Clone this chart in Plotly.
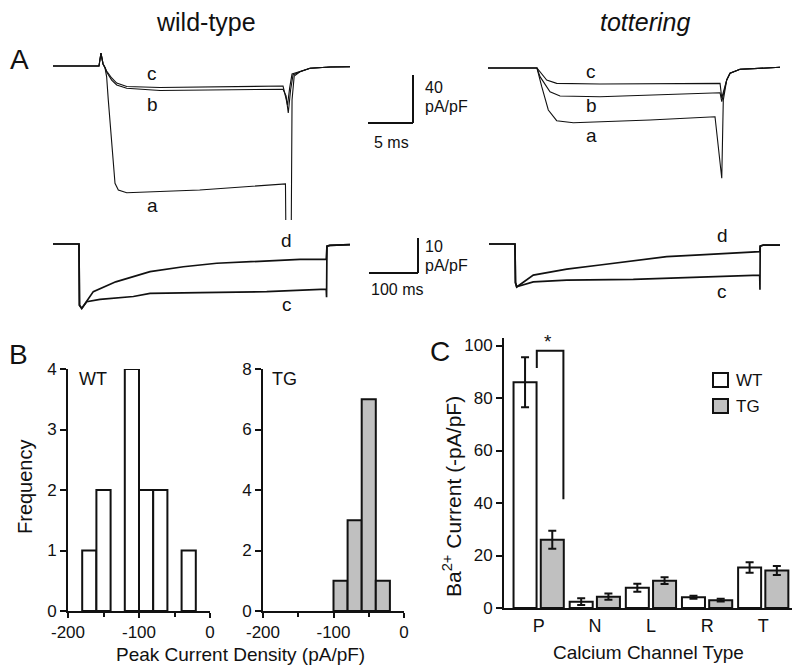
import plotly.graph_objects as go

# the page body has an 8px margin, so the figure is placed at (8, 8) in the 800x672 window
PAGE_OFF = 8
W, H = 800 - PAGE_OFF, 672 - PAGE_OFF
FONT = "Liberation Sans, Arial, Helvetica, sans-serif"
INK = "#111111"
GRAY = "#c0c0c0"

# ---------------- Panel A: current traces (time in ms, current in pA/pF) ----------------
# wild-type, short pulse
WT_TOP_T_A = [0, 5.11, 5.33, 5.56, 5.78, 5.96, 6.14, 6.7, 6.89, 7.26, 8.19, 16.3, 25.6, 25.83, 26.22, 26.56, 26.8, 27.44, 28.56, 30.8, 33.0]
WT_TOP_A = [0, 0, 10.8, 1.7, -1.5, -9, -28, -84, -97.8, -103.3, -105.6, -103.3, -98.3, -98.3, -445, -28.3, -8.3, -4.8, -1.9, -0.8, -0.6]
WT_TOP_T_B = [0, 5.11, 5.33, 5.56, 5.78, 5.96, 6.52, 7.08, 8.19, 11.89, 25.56, 25.9, 26.14, 26.4, 26.67, 27.44, 28.56, 30.8, 33.0]
WT_TOP_B = [0, 0, 10.8, 1.7, -1.5, -5, -11.7, -15.8, -18.6, -20.4, -19.4, -25, -39.2, -20, -7.5, -4.8, -1.9, -0.8, -0.6]
WT_TOP_T_C = [0, 5.11, 5.33, 5.56, 5.78, 5.96, 6.52, 7.08, 8.19, 11.89, 25.56, 26.06, 26.3, 26.56, 27.44, 28.56, 30.8, 33.0]
WT_TOP_C = [0, 0, 10.8, 1.7, -1.2, -4.2, -10, -14.2, -17.1, -17.9, -16.7, -32.5, -18, -6.7, -4.5, -1.9, -0.8, -0.6]

# tottering, short pulse
TG_TOP_T_A = [0, 5.44, 5.97, 6.7, 7.63, 9.48, 18.0, 25.22, 25.97, 26.14, 26.52, 26.89, 28.0, 32.44]
TG_TOP_A = [0, 0, -15.6, -35, -43.9, -45.6, -43.3, -40.6, -91.9, -26.7, -10, -4.4, -1.1, 0.6]
TG_TOP_T_B = [0, 5.44, 5.78, 6.89, 8.0, 12.44, 25.78, 25.97, 26.52, 26.89, 28.0, 32.44]
TG_TOP_B = [0, 0, -7.2, -19.8, -23.3, -23.9, -20.6, -28, -10, -4.4, -1.1, 0.6]
TG_TOP_T_C = [0, 5.44, 6.52, 7.63, 12.44, 25.2, 25.78, 25.97, 26.52, 26.89, 28.0, 32.44]
TG_TOP_C = [0, 0, -10, -12.8, -13.3, -12.5, -12.8, -25, -10, -4.4, -1.1, 0.6]

# wild-type, long pulse
WT_BOT_T_D = [0, 53, 54, 58.6, 82.2, 128, 198, 266, 334, 402, 504, 557.5, 559, 565, 606]
WT_BOT_D = [0, 0, -17.5, -18.4, -13.6, -10.8, -7.9, -6.5, -5.5, -5.0, -4.4, -4.4, -0.6, -0.4, -0.2]
WT_BOT_T_C = [0, 53, 54, 58.6, 68.8, 95.9, 164, 198, 300, 436, 557.5, 558.2, 559, 565, 606]
WT_BOT_C = [0, 0, -17.5, -18.4, -16.5, -15.8, -15.0, -14.1, -13.9, -13.6, -12.9, -15.2, -0.6, -0.4, -0.2]

# tottering, long pulse
TG_BOT_T_D = [0, 53, 54, 56.5, 90.4, 158.6, 226.5, 294.5, 362.7, 430.6, 498.6, 552.5, 553.5, 560, 575, 593.9]
TG_BOT_D = [0, 0, -11, -12.3, -8.9, -7.2, -6.0, -4.8, -3.6, -3.1, -2.7, -2.2, -0.6, -0.3, -0.3, -0.3]
TG_BOT_T_C = [0, 53, 54, 56.5, 90.4, 158.6, 294.5, 430.6, 552.5, 553, 553.5, 560, 593.9]
TG_BOT_C = [0, 0, -11, -12.2, -10.8, -10.3, -10.1, -9.5, -8.9, -13.1, -0.6, -0.3, -0.3]

# scale bars: (time ms, current pA/pF)
SCALE_TOP = (5, 40)
SCALE_BOT = (100, 10)

# ---------------- Panel B: histograms ----------------
BIN_LEFT = [-180, -160, -140, -120, -100, -80, -60, -40]
BIN_WIDTH = 20
WT_COUNTS = [1, 2, 0, 4, 2, 2, 0, 1]
TG_COUNTS = [0, 0, 0, 0, 1, 3, 7, 1]

# ---------------- Panel C: bar chart ----------------
CHANNELS = ["P", "N", "L", "R", "T"]
WT_MEAN = [86, 2.4, 7.7, 4.1, 15.4]
WT_SEM = [9.5, 1.3, 1.5, 0.6, 2.0]
TG_MEAN = [26, 4.3, 10.4, 3.0, 14.3]
TG_SEM = [3.4, 1.2, 1.3, 0.5, 1.7]


def px(x):
    return (x - PAGE_OFF) / W


def py(y):
    return 1 - (y - PAGE_OFF) / H


def xdom(a, b):
    return [px(a), px(b)]


def ydom(top, bottom):
    return [py(bottom), py(top)]


fig = go.Figure()

line_thin = dict(color=INK, width=1.1)
line_thick = dict(color=INK, width=1.7)

for t, v in [(WT_TOP_T_A, WT_TOP_A), (WT_TOP_T_B, WT_TOP_B), (WT_TOP_T_C, WT_TOP_C)]:
    fig.add_trace(go.Scatter(x=t, y=v, mode="lines", line=line_thin, xaxis="x", yaxis="y", showlegend=False))
for t, v in [(TG_TOP_T_A, TG_TOP_A), (TG_TOP_T_B, TG_TOP_B), (TG_TOP_T_C, TG_TOP_C)]:
    fig.add_trace(go.Scatter(x=t, y=v, mode="lines", line=line_thin, xaxis="x2", yaxis="y2", showlegend=False))
for t, v in [(WT_BOT_T_D, WT_BOT_D), (WT_BOT_T_C, WT_BOT_C)]:
    fig.add_trace(go.Scatter(x=t, y=v, mode="lines", line=line_thick, xaxis="x3", yaxis="y3", showlegend=False))
for t, v in [(TG_BOT_T_D, TG_BOT_D), (TG_BOT_T_C, TG_BOT_C)]:
    fig.add_trace(go.Scatter(x=t, y=v, mode="lines", line=line_thick, xaxis="x4", yaxis="y4", showlegend=False))

# histograms
def hist_trace(counts, fill, xa, ya):
    xs = [l + BIN_WIDTH / 2 for l, c in zip(BIN_LEFT, counts) if c > 0]
    ys = [c for c in counts if c > 0]
    return go.Bar(x=xs, y=ys, width=BIN_WIDTH, marker=dict(color=fill, line=dict(color=INK, width=2)),
                  xaxis=xa, yaxis=ya, showlegend=False)

fig.add_trace(hist_trace(WT_COUNTS, "white", "x5", "y5"))
fig.add_trace(hist_trace(TG_COUNTS, GRAY, "x6", "y6"))

# grouped bars
BAR_W = 0.41
fig.add_trace(go.Bar(x=CHANNELS, y=WT_MEAN, width=BAR_W, offset=-0.45,
                     marker=dict(color="white", line=dict(color=INK, width=2)),
                     error_y=dict(type="data", array=WT_SEM, color=INK, thickness=2, width=4),
                     xaxis="x7", yaxis="y7", showlegend=False))
fig.add_trace(go.Bar(x=CHANNELS, y=TG_MEAN, width=BAR_W, offset=0.035,
                     marker=dict(color=GRAY, line=dict(color=INK, width=2)),
                     error_y=dict(type="data", array=TG_SEM, color=INK, thickness=2, width=4),
                     xaxis="x7", yaxis="y7", showlegend=False))

hidden = dict(visible=False, showgrid=False, zeroline=False, fixedrange=True, automargin=False)

tick_font = dict(family=FONT, size=17, color=INK)

TOP_X_RANGE_WT = [0, 33.0]
TOP_X_RANGE_TG = [0, 32.44]
TOP_Y_RANGE = [-128.33, 21.67]
BOT_X_RANGE_WT = [0, 606]
BOT_X_RANGE_TG = [0, 593.9]
BOT_Y_RANGE = [-21.14, 3.43]

hist_x_ticks = [-200, -100, 0]
hist_x_text = ["-200", "-100", "0"]

def hist_xaxis(a, b):
    return dict(domain=xdom(a, b), range=[-200, 0], showline=True, linecolor=INK, linewidth=2,
                ticks="outside", ticklen=5, tickwidth=2, tickcolor=INK,
                tickvals=hist_x_ticks, ticktext=hist_x_text, tickfont=tick_font,
                minor=dict(tickvals=[-150, -50], ticks="outside", ticklen=4, tickwidth=1.5, tickcolor=INK),
                showgrid=False, zeroline=False, fixedrange=True, automargin=False)

def hist_yaxis(anchor, top, step):
    return dict(domain=ydom(369, 611), range=[0, top], anchor=anchor, showline=True, linecolor=INK, linewidth=2,
                ticks="outside", ticklen=6, tickwidth=2, tickcolor=INK, dtick=step, tickfont=tick_font,
                showgrid=False, zeroline=False, fixedrange=True, automargin=False)

fig.update_layout(
    template="none",
    width=W, height=H, margin=dict(l=0, r=0, t=0, b=0, pad=0, autoexpand=False),
    paper_bgcolor="white", plot_bgcolor="rgba(0,0,0,0)",
    font=dict(family=FONT, color=INK),
    xaxis=dict(domain=xdom(53, 350), range=TOP_X_RANGE_WT, anchor="y", **hidden),
    yaxis=dict(domain=ydom(40, 220), range=TOP_Y_RANGE, anchor="x", **hidden),
    xaxis2=dict(domain=xdom(488, 780), range=TOP_X_RANGE_TG, anchor="y2", **hidden),
    yaxis2=dict(domain=ydom(42, 222), range=TOP_Y_RANGE, anchor="x2", **hidden),
    xaxis3=dict(domain=xdom(53, 350), range=BOT_X_RANGE_WT, anchor="y3", **hidden),
    yaxis3=dict(domain=ydom(232, 318), range=BOT_Y_RANGE, anchor="x3", **hidden),
    xaxis4=dict(domain=xdom(489, 780), range=BOT_X_RANGE_TG, anchor="y4", **hidden),
    yaxis4=dict(domain=ydom(232, 318), range=BOT_Y_RANGE, anchor="x4", **hidden),
    xaxis5=dict(anchor="y5", **hist_xaxis(68, 210)),
    yaxis5=hist_yaxis("x5", 4, 1),
    xaxis6=dict(anchor="y6", **hist_xaxis(263, 404)),
    yaxis6=hist_yaxis("x6", 8, 2),
    xaxis7=dict(domain=xdom(504, 792), range=[-0.62, 4.51], anchor="y7", type="category",
                categoryorder="array", categoryarray=CHANNELS,
                showline=True, linecolor=INK, linewidth=2, ticks="", tickfont=dict(family=FONT, size=18, color=INK),
                showgrid=False, zeroline=False, fixedrange=True, automargin=False),
    yaxis7=dict(domain=ydom(338, 608), range=[0, 102.86], anchor="x7", showline=True, linecolor=INK, linewidth=2,
                ticks="outside", ticklen=6, tickwidth=2, tickcolor=INK, dtick=20, tickfont=tick_font,
                showgrid=False, zeroline=False, fixedrange=True, automargin=False),
    showlegend=False,
)

shapes = []

def pline(x0, y0, x1, y1, w=2):
    shapes.append(dict(type="line", xref="paper", yref="paper", x0=px(x0), y0=py(y0), x1=px(x1), y1=py(y1),
                       line=dict(color=INK, width=w)))

# scale bars converted from data units using the trace axes' pixel scale
top_ms_px = (350 - 53) / (TOP_X_RANGE_WT[1] - TOP_X_RANGE_WT[0])
top_pa_px = (220 - 40) / (TOP_Y_RANGE[1] - TOP_Y_RANGE[0])
bx, by = 413, 123
pline(bx - SCALE_TOP[0] * top_ms_px, by, bx, by)
pline(bx, by, bx, by - SCALE_TOP[1] * top_pa_px)

bot_ms_px = (350 - 53) / (BOT_X_RANGE_WT[1] - BOT_X_RANGE_WT[0])
bot_pa_px = (318 - 232) / (BOT_Y_RANGE[1] - BOT_Y_RANGE[0])
bx, by = 418, 273
pline(bx - SCALE_BOT[0] * bot_ms_px, by, bx, by)
pline(bx, by, bx, by - SCALE_BOT[1] * bot_pa_px)

# significance bracket in panel C
shapes.append(dict(type="path", xref="x7", yref="y7",
                   path="M -0.036 91.4 L -0.036 98.0 L 0.438 98.0 L 0.438 41.4",
                   line=dict(color=INK, width=2)))

# custom legend boxes
shapes.append(dict(type="rect", xref="paper", yref="paper", x0=px(713), x1=px(728), y0=py(387), y1=py(373),
                   line=dict(color=INK, width=2), fillcolor="white"))
shapes.append(dict(type="rect", xref="paper", yref="paper", x0=px(713), x1=px(728), y0=py(413), y1=py(399),
                   line=dict(color=INK, width=2), fillcolor=GRAY))

annotations = []

def text(x, y, s, size, xanchor="center", yanchor="middle", italic=False, angle=0):
    f = dict(family=FONT, size=size, color=INK)
    if italic:
        f["style"] = "italic"
    annotations.append(dict(x=px(x), y=py(y), xref="paper", yref="paper", text=s, showarrow=False,
                            font=f, xanchor=xanchor, yanchor=yanchor, textangle=angle))

text(206, 22, "wild-type", 25)
text(645, 22, "tottering", 25, italic=True)
text(19, 60, "A", 28)
text(18, 354, "B", 28)
text(440, 351, "C", 28)

# trace letters
text(152, 73, "c", 19)
text(152, 104, "b", 19)
text(152, 206, "a", 19)
text(591, 72, "c", 19)
text(591, 105, "b", 19)
text(591, 136, "a", 19)
text(286, 241, "d", 19)
text(287, 304, "c", 19)
text(722, 235, "d", 19)
text(722, 291, "c", 19)

# scale bar labels
text(423, 88, f"{SCALE_TOP[1]}", 16, xanchor="left")
text(423, 106, "pA/pF", 16, xanchor="left")
text(391, 143, f"{SCALE_TOP[0]} ms", 16)
text(423, 246, f"{SCALE_BOT[1]}", 16, xanchor="left")
text(423, 266, "pA/pF", 16, xanchor="left")
text(397, 290, f"{SCALE_BOT[0]} ms", 16)

# panel B labels
text(93, 379, "WT", 18)
text(284, 379, "TG", 18)
text(25, 487, "Frequency", 20, angle=-90)
text(240, 654, "Peak Current Density (pA/pF)", 19)

# panel C labels
text(452, 496, "Ba<sup>2+</sup> Current (-pA/pF)", 21, angle=-90)
text(648, 652, "Calcium Channel Type", 19)
text(548, 341, "*", 19)
text(734, 380, "WT", 17, xanchor="left")
text(734, 406, "TG", 17, xanchor="left")

fig.update_layout(shapes=shapes, annotations=annotations)

fig.write_html("out.html")
